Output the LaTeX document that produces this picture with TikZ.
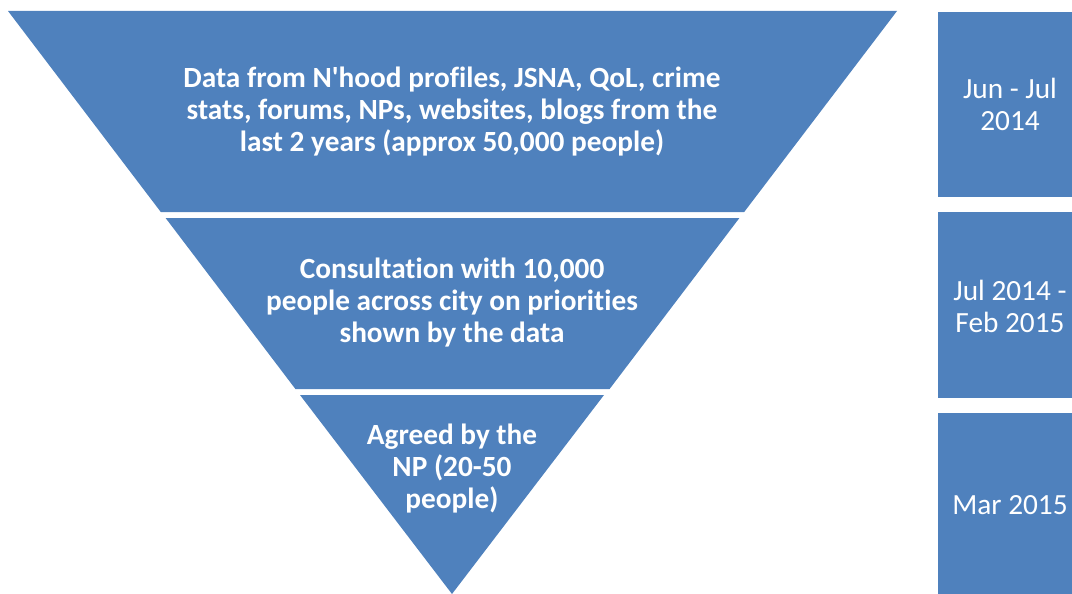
\documentclass[tikz,border=0pt]{standalone}
\usepackage{fontspec}
\setmainfont[Ligatures={NoCommon}]{Carlito}
\definecolor{officeblue}{HTML}{4F81BD}
\begin{document}
\begin{tikzpicture}[x=1pt,y=-1pt,
  seg/.style={fill=officeblue,draw=none},
  segtext/.style={text=white,font=\fontsize{29.3}{32}\selectfont\bfseries,align=center,inner sep=0pt},
  datetext/.style={text=white,font=\fontsize{29.3}{32}\selectfont,align=center,inner sep=0pt}]
\useasboundingbox (0,0) rectangle (1072,594);
% funnel pieces
\fill[seg] (8,11) -- (897,11) -- (744.2,212) -- (160.8,212) -- cycle;
\fill[seg] (165.6,218) -- (739.4,218) -- (609.6,389) -- (295.4,389) -- cycle;
\fill[seg] (300,395) -- (604,395) -- (452,594) -- cycle;
% date boxes
\fill[seg] (938,12) rectangle (1072,197);
\fill[seg] (938,212) rectangle (1072,398);
\fill[seg] (938,413) rectangle (1072,594);
% texts
\node[segtext] (t1) at (452,112) {Data from N\textquotesingle hood profiles, JSNA, QoL, crime\\stats, forums, NPs, websites, blogs from the\\last 2 years (approx 50,000 people)};
\node[segtext] (t2) at (452,303) {Consultation with 10,000\\people across city on priorities\\shown by the data};
\node[segtext] (t3) at (452,469) {Agreed by the\\NP (20-50\\people)};
\node[datetext] (d1) at (1010,104) {Jun - Jul\\2014};
\node[datetext] (d2) at (1010,306) {Jul 2014 -\\Feb 2015};
\node[datetext] (d3) at (1010,505) {Mar 2015};
\end{tikzpicture}
\end{document}
